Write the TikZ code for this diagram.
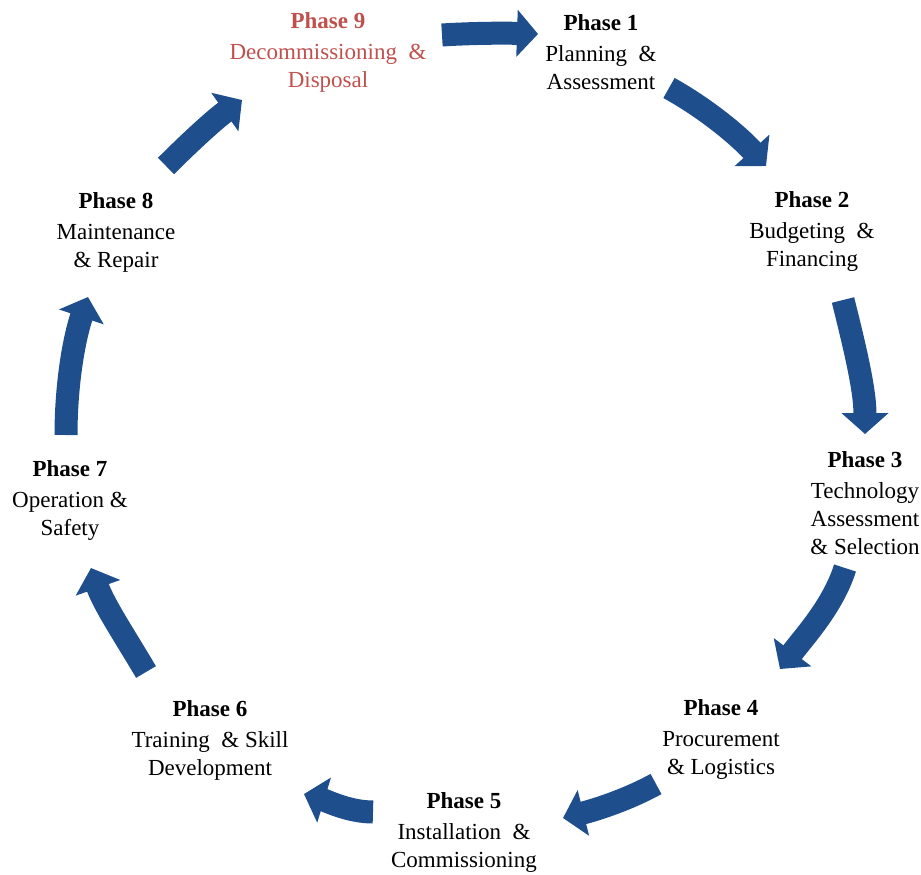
\documentclass[tikz,border=0pt]{standalone}
\usepackage{fontspec}
\setmainfont{Liberation Serif}
\usetikzlibrary{arrows.meta}
\definecolor{arrowblue}{RGB}{31,78,140}
\definecolor{phasered}{RGB}{192,80,77}
\begin{document}
\begin{tikzpicture}[x=1pt,y=-1pt,
  phase/.style={align=center, font=\fontsize{23}{28}\selectfont, inner sep=0pt},
  cyc/.style={draw=arrowblue, line width=23pt, -{Triangle[length=21pt 0 1, width=46pt 0 1]}},
]
\useasboundingbox (0,0) rectangle (921,875);

% phase labels
\node[phase, text=phasered] (p9) at (328,52) {\textbf{Phase 9}\\[3pt]Decommissioning \ \&\\Disposal};
\node[phase] (p1) at (601,52) {\textbf{Phase 1}\\[3pt]Planning \ \&\\Assessment};
\node[phase] (p2) at (812,232) {\textbf{Phase 2}\\[3pt]Budgeting \ \&\\Financing};
\node[phase] (p3) at (865,503) {\textbf{Phase 3}\\[3pt]Technology\\Assessment\\\& Selection};
\node[phase] (p4) at (721,739) {\textbf{Phase 4}\\[3pt]Procurement\\\& Logistics};
\node[phase] (p5) at (464,832) {\textbf{Phase 5}\\[3pt]Installation \ \&\\Commissioning};
\node[phase] (p6) at (210,740) {\textbf{Phase 6}\\[3pt]Training \ \& Skill\\Development};
\node[phase] (p7) at (70,500) {\textbf{Phase 7}\\[3pt]Operation \&\\Safety};
\node[phase] (p8) at (116,232) {\textbf{Phase 8}\\[3pt]Maintenance\\\& Repair};

% arrow end points and control points
\coordinate (a91s) at (442,35);  \coordinate (a91c) at (474,33);  \coordinate (a91d) at (506,33);  \coordinate (a91e) at (538,34);
\coordinate (a12s) at (669,88);  \coordinate (a12c) at (705,108); \coordinate (a12d) at (738,135); \coordinate (a12e) at (766,166);
\coordinate (a23s) at (843,300); \coordinate (a23c) at (854,344); \coordinate (a23d) at (865,389); \coordinate (a23e) at (865,434);
\coordinate (a34s) at (845,568); \coordinate (a34c) at (833,606); \coordinate (a34d) at (804,637); \coordinate (a34e) at (780,669);
\coordinate (a45s) at (656,784); \coordinate (a45c) at (627,800); \coordinate (a45d) at (595,810); \coordinate (a45e) at (563,818);
\coordinate (a56s) at (373,812); \coordinate (a56c) at (349,812); \coordinate (a56d) at (327,801); \coordinate (a56e) at (304,794);
\coordinate (a67s) at (146,672); \coordinate (a67c) at (126,638); \coordinate (a67d) at (104,605); \coordinate (a67e) at (91,568);
\coordinate (a78s) at (66,435);  \coordinate (a78c) at (66,388);  \coordinate (a78d) at (73,342);  \coordinate (a78e) at (88,297);
\coordinate (a89s) at (166,166); \coordinate (a89c) at (189,143); \coordinate (a89d) at (215,119); \coordinate (a89e) at (242,100);

% cycle arrows
\draw[cyc] (a91s) .. controls (a91c) and (a91d) .. (a91e);
\draw[cyc] (a12s) .. controls (a12c) and (a12d) .. (a12e);
\draw[cyc] (a23s) .. controls (a23c) and (a23d) .. (a23e);
\draw[cyc] (a34s) .. controls (a34c) and (a34d) .. (a34e);
\draw[cyc] (a45s) .. controls (a45c) and (a45d) .. (a45e);
\draw[cyc] (a56s) .. controls (a56c) and (a56d) .. (a56e);
\draw[cyc] (a67s) .. controls (a67c) and (a67d) .. (a67e);
\draw[cyc] (a78s) .. controls (a78c) and (a78d) .. (a78e);
\draw[cyc] (a89s) .. controls (a89c) and (a89d) .. (a89e);
\end{tikzpicture}
\end{document}
